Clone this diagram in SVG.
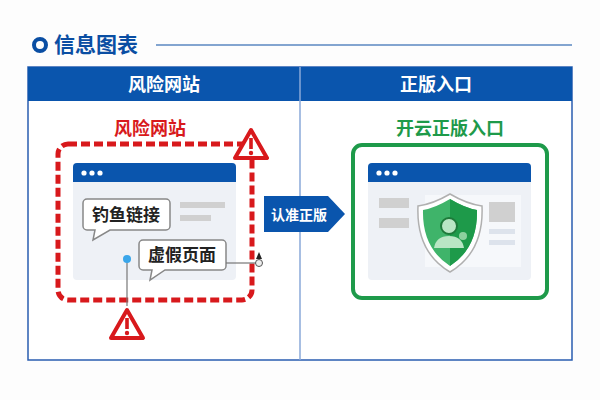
<svg xmlns="http://www.w3.org/2000/svg" width="600" height="400" viewBox="0 0 600 400">
<style>
text{font-family:"Noto Sans CJK SC","Noto Sans",sans-serif;font-weight:bold}
.hd{fill:#fff;font-size:18px;text-anchor:middle}
.bub{fill:#fff;stroke:#888;stroke-width:1.5}
.bt{font-size:17px;fill:#222;text-anchor:middle}
.grey{fill:#d0d0d0}
</style>
<defs>
<g id="warn"><path d="M0,-15 L16,13 L-16,13 Z" fill="#fff" stroke="#d8191c" stroke-width="4" stroke-linejoin="round"/><rect x="-1.8" y="-7" width="3.6" height="11" fill="#d8191c"/><circle cx="0" cy="8" r="2.2" fill="#d8191c"/></g>
</defs>
<rect width="600" height="400" fill="#fdfdfd"/>
<g id="title">
<circle cx="40" cy="45" r="6" fill="none" stroke="#0a4ea3" stroke-width="4"/>
<text x="54" y="52" font-size="21" fill="#0a4ea3">信息图表</text>
<line x1="156" y1="45" x2="572" y2="45" stroke="#0a4ea3" stroke-width="1.2"/>
</g>
<g id="table">
<rect x="28" y="67" width="544" height="293" fill="#fff" stroke="#2a5db0" stroke-width="1.5"/>
<rect x="28" y="67" width="544" height="34" fill="#0a55ad"/>
<line x1="300" y1="67" x2="300" y2="360" stroke="#8aa8d8" stroke-width="1.5"/>
<text class="hd" x="164" y="91">风险网站</text>
<text class="hd" x="436" y="91">正版入口</text>
</g>
<g id="risk">
<text x="150" y="135" font-size="18" fill="#d8191c" text-anchor="middle">风险网站</text>
<rect x="58" y="144" width="194" height="156" rx="10" fill="none" stroke="#d8191c" stroke-width="5" stroke-dasharray="9 4"/>
<rect x="73" y="163" width="163" height="117" rx="4" fill="#eef1f6"/>
<path d="M73,182 V167 a4,4 0 0 1 4,-4 H232 a4,4 0 0 1 4,4 V182 Z" fill="#0a55ad"/>
<circle cx="84" cy="173" r="2.6" fill="#fff"/><circle cx="92" cy="173" r="2.6" fill="#fff"/><circle cx="100" cy="173" r="2.6" fill="#fff"/>
<rect class="grey" x="180" y="202" width="45" height="6"/>
<rect class="grey" x="180" y="215" width="31" height="6"/>
<path class="bub" d="M87,199 H166 a4,4 0 0 1 4,4 V226 a4,4 0 0 1 -4,4 H110 L93,240 L95,230 H87 a4,4 0 0 1 -4,-4 V203 a4,4 0 0 1 4,-4 Z"/>
<text class="bt" x="126" y="221">钓鱼链接</text>
<path class="bub" d="M143,240 H222 a4,4 0 0 1 4,4 V266 a4,4 0 0 1 -4,4 H165 L150,280 L152,270 H143 a4,4 0 0 1 -4,-4 V244 a4,4 0 0 1 4,-4 Z"/>
<text class="bt" x="182" y="261">虚假页面</text>
<line x1="127" y1="259" x2="127" y2="306" stroke="#777" stroke-width="1.2"/>
<circle cx="127" cy="259" r="4" fill="#3aa6ea"/>
<line x1="226" y1="263" x2="257" y2="263" stroke="#777" stroke-width="1.2"/>
<circle cx="259" cy="263" r="3.5" fill="#eee" stroke="#555" stroke-width="1"/>
<path d="M259,252 L262,259 L256,259 Z" fill="#222"/>
<use href="#warn" x="127" y="325"/>
<use href="#warn" x="251" y="145"/>
</g>
<g id="arrow">
<path d="M264,196 H328 L345,214 L328,232 H264 Z" fill="#0a55ad"/>
<text x="299" y="220" font-size="14" fill="#fff" text-anchor="middle">认准正版</text>
</g>
<g id="official">
<text x="450" y="135" font-size="18" fill="#1e9a4a" text-anchor="middle">开云正版入口</text>
<rect x="353" y="145" width="194" height="153" rx="9" fill="#fff" stroke="#1e9a4a" stroke-width="4"/>
<rect x="368" y="163" width="163" height="117" rx="4" fill="#eef1f6"/>
<path d="M368,182 V167 a4,4 0 0 1 4,-4 H527 a4,4 0 0 1 4,4 V182 Z" fill="#0a55ad"/>
<circle cx="379" cy="173" r="2.6" fill="#fff"/><circle cx="387" cy="173" r="2.6" fill="#fff"/><circle cx="395" cy="173" r="2.6" fill="#fff"/>
<rect x="425" y="195" width="96" height="72" fill="#f6f8fb"/>
<rect class="grey" x="379" y="198" width="30" height="10"/>
<rect class="grey" x="379" y="218" width="30" height="10"/>
<rect class="grey" x="489" y="202" width="26" height="20"/>
<rect x="489" y="229" width="26" height="5" fill="#dde3ec"/>
<rect x="489" y="240" width="26" height="5" fill="#dde3ec"/>
<path d="M450,194 Q467,204 482,206 Q484,252 450,272 Q416,252 418,206 Q433,204 450,194 Z" fill="#fff" stroke="#b0b0b0" stroke-width="1.5"/>
<path d="M450,199 Q465,208 477,210 Q478,248 450,266 Q422,248 423,210 Q435,208 450,199 Z" fill="#3fb46a"/>
<path d="M450,199 Q465,208 477,210 Q478,248 450,266 Z" fill="#1e9a4a"/>
<circle cx="449" cy="226" r="8" fill="#b9e6c4" stroke="#1e7a3a" stroke-width="2"/>
<path d="M434,248 Q436,236 449,236 Q462,236 464,248 Z" fill="#b9e6c4"/>
<circle cx="463" cy="236" r="4" fill="#8dd19e"/>
</g>
</svg>
